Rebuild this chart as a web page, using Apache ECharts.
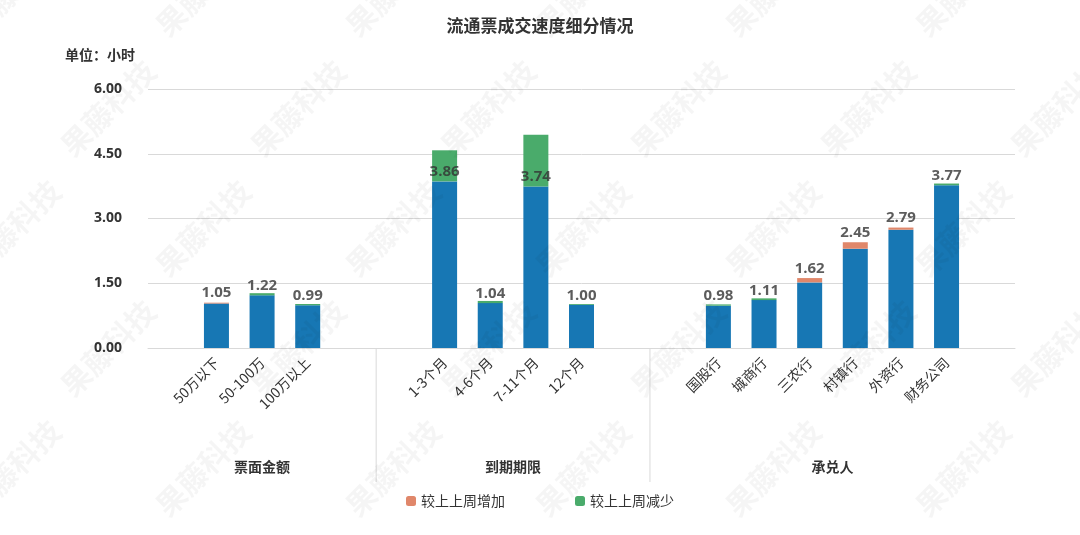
<!DOCTYPE html><html><head><meta charset="utf-8"><script src="https://cdn.jsdelivr.net/npm/echarts@6/dist/echarts.min.js"></script></head><body style="margin:0"><div id="c" style="width:1080px;height:535px"></div><script>
const categories=['','50万以下','50-100万','100万以上','','','1-3个月','4-6个月','7-11个月','12个月','','','国股行','城商行','三农行','村镇行','外资行','财务公司',''];
const totals=[null,1.05,1.22,0.99,null,null,3.86,1.04,3.74,1.00,null,null,0.98,1.11,1.62,2.45,2.79,3.77,null];
const baseVals=[null,1.03,1.22,0.99,null,null,3.86,1.04,3.74,1.00,null,null,0.98,1.11,1.52,2.30,2.74,3.77,null];
const incVals=[null,0.02,null,null,null,null,null,null,null,null,null,null,null,null,0.10,0.15,0.05,null,null];
const decVals=[null,null,0.05,0.03,null,null,0.72,0.05,1.20,0.02,null,null,0.03,0.04,null,null,null,0.04,null];
const groups=[{name:'票面金额',from:0,to:4},{name:'到期期限',from:5,to:10},{name:'承兑人',from:11,to:18}];
const yTicks=[0,1.5,3,4.5,6];
const ch=echarts.init(document.getElementById('c'));
const wm=[];
for(let r=0;r<5;r++)for(let k=0;k<7;k++){wm.push({type:'text',x:-40+k*190+(r%2)*95,y:20+r*120,rotation:Math.PI/4,style:{text:'果藤科技',font:'bold 30px "Noto Sans CJK SC"',fill:'rgba(0,0,0,0.04)'},z:100,silent:true});}
ch.setOption({
 title:{text:'流通票成交速度细分情况',left:'center',top:12,textStyle:{fontSize:17,fontWeight:'bold',color:'#333',fontFamily:'Noto Sans CJK SC'}},
 legend:{bottom:22,itemWidth:10,itemHeight:10,itemGap:70,data:['较上上周增加','较上上周减少'],textStyle:{fontSize:14,color:'#333',fontFamily:'Noto Sans CJK SC'}},
 grid:{left:148,right:65,top:89,bottom:187},
 xAxis:{type:'category',data:categories,axisTick:{show:false},axisLine:{lineStyle:{color:'#d9d9d9'}},axisLabel:{interval:0,rotate:45,fontSize:14,color:'#333',fontFamily:'Noto Sans CJK SC',margin:12}},
 yAxis:{type:'value',min:0,max:6,interval:1.5,axisLabel:{formatter:v=>v.toFixed(2),fontSize:14,fontWeight:'bold',color:'#333',fontFamily:'Open Sans',margin:26},splitLine:{lineStyle:{color:'#d9d9d9'}}},
 series:[
  {name:'base',type:'bar',stack:'s',data:baseVals,barWidth:25,itemStyle:{color:'#1777b4'}},
  {name:'较上上周增加',type:'bar',stack:'s',data:incVals,itemStyle:{color:'#e0876a'}},
  {name:'较上上周减少',type:'bar',stack:'s',data:decVals,itemStyle:{color:'#4aab6b'}},
  {name:'lab',type:'scatter',symbolSize:0,data:totals,label:{show:true,position:'top',distance:2,formatter:p=>p.value.toFixed(2),fontSize:15,fontWeight:'bold',color:'#333',fontFamily:'Open Sans'},tooltip:{show:false}}
 ],
 graphic:wm
});
const g=[];
const w=ch.convertToPixel({xAxisIndex:0},1)-ch.convertToPixel({xAxisIndex:0},0);
const yb=ch.convertToPixel({yAxisIndex:0},0);
groups.forEach((gr,i)=>{
 const x1=ch.convertToPixel({xAxisIndex:0},gr.from)-w/2, x2=ch.convertToPixel({xAxisIndex:0},gr.to)+w/2;
 if(i>0)g.push({type:'line',shape:{x1:x1,y1:yb,x2:x1,y2:482},style:{stroke:'#d9d9d9',lineWidth:1}});
 g.push({type:'text',x:(x1+x2)/2,y:467,style:{text:gr.name,font:'bold 14px "Noto Sans CJK SC"',fill:'#333',align:'center',verticalAlign:'middle'}});
});
g.push({type:'text',x:65,y:55,style:{text:'单位：小时',font:'bold 14px "Noto Sans CJK SC"',fill:'#333',verticalAlign:'middle'}});
ch.setOption({graphic:wm.concat(g)});
</script></body></html>
